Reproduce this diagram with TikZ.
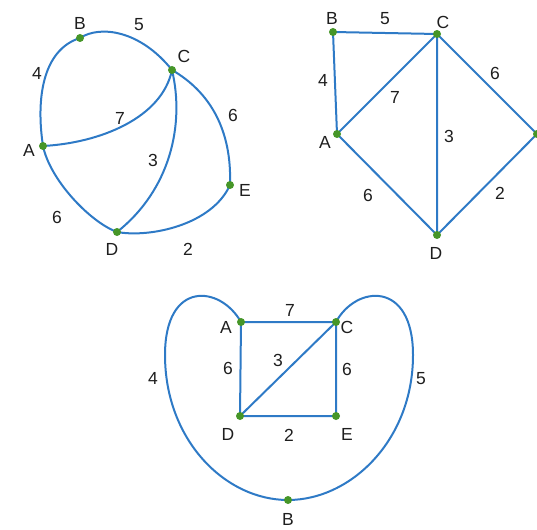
\documentclass[tikz,border=0pt]{standalone}
\usepackage{fontspec}
\setmainfont{Liberation Sans}
\usetikzlibrary{positioning, backgrounds}
\definecolor{edgeBlue}{RGB}{46, 122, 198}
\definecolor{dotGreen}{RGB}{70, 150, 40}
\definecolor{txtGrey}{RGB}{30, 30, 30}

\begin{document}
\begin{tikzpicture}[
    x=1pt, y=-1pt,
    vtx/.style={circle, fill=dotGreen, inner sep=0pt, minimum size=8pt},
    lbl/.style={font=\fontsize{17.5}{20}\selectfont, text=txtGrey, inner sep=0pt},
    link/.style={draw=edgeBlue, line width=2pt},
  ]
    \useasboundingbox (0,0) rectangle (537,529);

    % Graph 1: curved drawing
    \node[vtx] (B1) at (80,38) {};
    \node[vtx] (C1) at (172,70) {};
    \node[vtx] (A1) at (43,146) {};
    \node[vtx] (E1) at (230,185) {};
    \node[vtx] (D1) at (117,232) {};

    \node[lbl] (B1t) at (80,23) {B};
    \node[lbl] (C1t) at (184,56) {C};
    \node[lbl] (A1t) at (29,150) {A};
    \node[lbl] (E1t) at (245,190) {E};
    \node[lbl] (D1t) at (112,249) {D};
    \node[lbl] (w1AB) at (37,73) {4};
    \node[lbl] (w1BC) at (139,25) {5};
    \node[lbl] (w1AC) at (120,118) {7};
    \node[lbl] (w1CE) at (233,115) {6};
    \node[lbl] (w1CD) at (153,160) {3};
    \node[lbl] (w1AD) at (57,217) {6};
    \node[lbl] (w1DE) at (188,249) {2};

    \begin{scope}[on background layer]
      \draw[link] (A1.center) .. controls (36,100) and (42,50) .. (B1.center);
      \draw[link] (B1.center) .. controls (100,25) and (140,30) .. (C1.center);
      \draw[link] (C1.center) .. controls (210,92) and (232,130) .. (E1.center);
      \draw[link] (E1.center) .. controls (212,225) and (150,238) .. (D1.center);
      \draw[link] (D1.center) .. controls (90,222) and (50,180) .. (A1.center);
      \draw[link] (A1.center) .. controls (100,143) and (162,118) .. (C1.center);
      \draw[link] (C1.center) .. controls (185,125) and (170,190) .. (D1.center);
    \end{scope}

    % Graph 2: straight drawing
    \node[vtx] (B2) at (333,32) {};
    \node[vtx] (C2) at (437,34) {};
    \node[vtx] (A2) at (337,134) {};
    \node[vtx] (D2) at (437,235) {};
    \node[vtx] (E2) at (537,134) {};

    \node[lbl] (B2t) at (332,18) {B};
    \node[lbl] (C2t) at (443,22) {C};
    \node[lbl] (A2t) at (325,142) {A};
    \node[lbl] (D2t) at (436,253) {D};
    \node[lbl] (w2AB) at (323,80) {4};
    \node[lbl] (w2BC) at (385,19) {5};
    \node[lbl] (w2AC) at (395,97) {7};
    \node[lbl] (w2CE) at (495,73) {6};
    \node[lbl] (w2CD) at (449,136) {3};
    \node[lbl] (w2AD) at (368,195) {6};
    \node[lbl] (w2DE) at (500,193) {2};

    \begin{scope}[on background layer]
      \draw[link] (A2.center) -- (B2.center) -- (C2.center) -- (E2.center)
        -- (D2.center) -- (A2.center) -- (C2.center) -- (D2.center);
    \end{scope}

    % Graph 3: square with outer loop
    \node[vtx] (A3) at (241,322) {};
    \node[vtx] (C3) at (336,322) {};
    \node[vtx] (D3) at (240,416) {};
    \node[vtx] (E3) at (336,416) {};
    \node[vtx] (B3) at (288,500) {};
    \coordinate (L3) at (165,355);
    \coordinate (R3) at (413,355);

    \node[lbl] (A3t) at (226,327) {A};
    \node[lbl] (C3t) at (347,327) {C};
    \node[lbl] (D3t) at (228,434) {D};
    \node[lbl] (E3t) at (347,434) {E};
    \node[lbl] (B3t) at (288,519) {B};
    \node[lbl] (w3AC) at (290,310) {7};
    \node[lbl] (w3AD) at (228,368) {6};
    \node[lbl] (w3CD) at (278,360) {3};
    \node[lbl] (w3CE) at (347,369) {6};
    \node[lbl] (w3DE) at (289,435) {2};
    \node[lbl] (w3AB) at (153,378) {4};
    \node[lbl] (w3BC) at (421,379) {5};

    \begin{scope}[on background layer]
      \draw[link] (A3.center) -- (C3.center) -- (E3.center) -- (D3.center)
        -- (A3.center);
      \draw[link] (D3.center) -- (C3.center);
      \draw[link] (A3.center) .. controls (220,285) and (165,280) .. (L3)
        .. controls (165,440) and (225,500) .. (B3.center);
      \draw[link] (C3.center) .. controls (356,285) and (413,280) .. (R3)
        .. controls (413,440) and (351,500) .. (B3.center);
    \end{scope}
\end{tikzpicture}
\end{document}
